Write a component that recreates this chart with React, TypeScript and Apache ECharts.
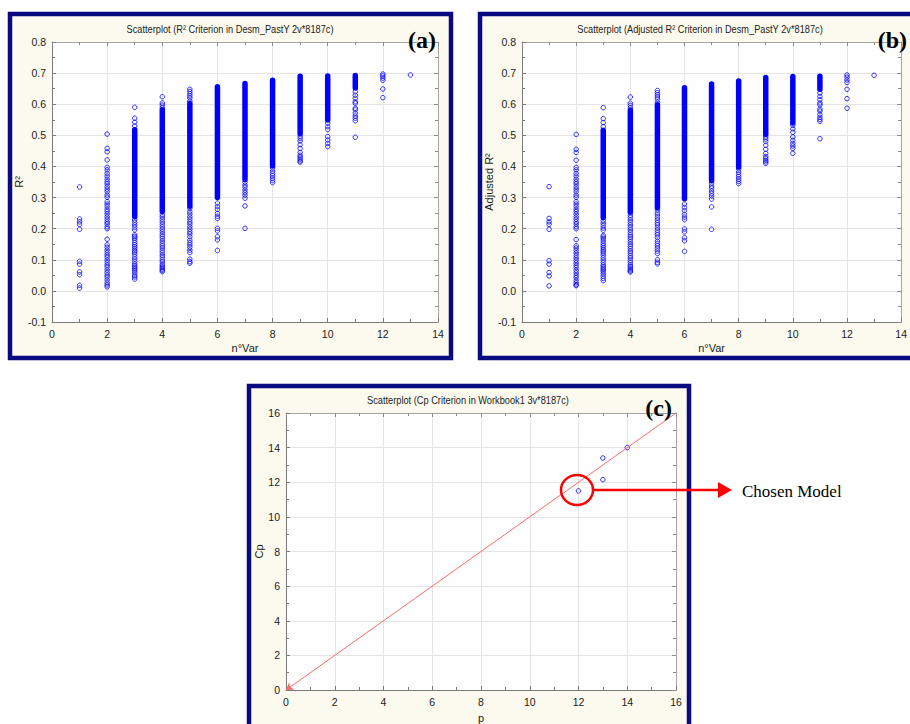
import { useEffect, useRef } from "react";
import * as echarts from "echarts";

// ---------- DATA ----------
// Panel (a): R² criterion – isolated models per number of variables (index 0 => nVar 1)
const rsqSparse: number[][] = [
  [0.334, 0.231, 0.222, 0.214, 0.198, 0.095, 0.086, 0.061, 0.052, 0.018, 0.009],
  [0.504, 0.458, 0.447, 0.421, 0.397, 0.389, 0.378, 0.369, 0.359, 0.351, 0.344, 0.335, 0.327, 0.319, 0.308, 0.301, 0.287, 0.279, 0.271, 0.262, 0.255, 0.247, 0.238, 0.23, 0.222, 0.215, 0.206, 0.2, 0.166, 0.148, 0.14, 0.131, 0.123, 0.115, 0.108, 0.099, 0.091, 0.083, 0.076, 0.067, 0.059, 0.051, 0.044, 0.035, 0.026, 0.019, 0.013],
  [0.59, 0.555, 0.542, 0.53, 0.228, 0.22, 0.212, 0.204, 0.196, 0.18, 0.175, 0.17, 0.163, 0.155, 0.148, 0.142, 0.136, 0.13, 0.125, 0.118, 0.11, 0.102, 0.094, 0.086, 0.08, 0.075, 0.07, 0.065, 0.058, 0.05, 0.045, 0.038],
  [0.624, 0.604, 0.597, 0.589, 0.245, 0.238, 0.23, 0.222, 0.214, 0.206, 0.198, 0.19, 0.182, 0.175, 0.168, 0.16, 0.152, 0.145, 0.138, 0.13, 0.123, 0.115, 0.108, 0.1, 0.093, 0.085, 0.08, 0.075, 0.07, 0.066, 0.062],
  [0.648, 0.641, 0.634, 0.627, 0.62, 0.61, 0.265, 0.255, 0.247, 0.238, 0.23, 0.222, 0.215, 0.206, 0.198, 0.19, 0.183, 0.174, 0.163, 0.155, 0.148, 0.14, 0.131, 0.123, 0.102, 0.094, 0.089],
  [0.282, 0.271, 0.262, 0.249, 0.24, 0.233, 0.201, 0.193, 0.174, 0.164, 0.13],
  [0.349, 0.34, 0.333, 0.324, 0.316, 0.308, 0.298, 0.273, 0.201],
  [0.395, 0.385, 0.377, 0.37, 0.362, 0.355, 0.348],
  [0.497, 0.49, 0.482, 0.47, 0.458, 0.445, 0.436, 0.43, 0.424, 0.418, 0.414],
  [0.539, 0.528, 0.519, 0.496, 0.485, 0.474, 0.464],
  [0.64, 0.629, 0.619, 0.608, 0.603, 0.587, 0.582, 0.571, 0.562, 0.555, 0.547, 0.494],
  [0.697, 0.691, 0.684, 0.677, 0.649, 0.621],
  [0.694],
];
// Panel (a): dense bands of overlapping models [nVar, low, high]
const rsqDense: number[][] = [
  [3, 0.238, 0.518],
  [4, 0.255, 0.582],
  [5, 0.272, 0.602],
  [6, 0.3, 0.656],
  [7, 0.358, 0.667],
  [8, 0.402, 0.677],
  [9, 0.506, 0.69],
  [10, 0.549, 0.691],
  [11, 0.652, 0.692],
];

// Panel (b): Adjusted R² criterion
const adjSparse: number[][] = [
  [0.335, 0.233, 0.222, 0.214, 0.198, 0.097, 0.086, 0.059, 0.048, 0.016],
  [0.503, 0.455, 0.445, 0.42, 0.397, 0.389, 0.378, 0.369, 0.359, 0.351, 0.344, 0.335, 0.327, 0.319, 0.308, 0.301, 0.287, 0.279, 0.271, 0.262, 0.255, 0.247, 0.238, 0.23, 0.222, 0.215, 0.206, 0.2, 0.165, 0.145, 0.138, 0.13, 0.122, 0.114, 0.106, 0.098, 0.09, 0.082, 0.075, 0.066, 0.058, 0.05, 0.043, 0.034, 0.026, 0.02, 0.017],
  [0.589, 0.554, 0.541, 0.528, 0.226, 0.218, 0.21, 0.202, 0.195, 0.178, 0.173, 0.168, 0.161, 0.153, 0.146, 0.14, 0.134, 0.128, 0.122, 0.115, 0.107, 0.099, 0.091, 0.083, 0.077, 0.072, 0.067, 0.062, 0.055, 0.047, 0.04, 0.033],
  [0.623, 0.603, 0.596, 0.588, 0.243, 0.236, 0.228, 0.22, 0.212, 0.204, 0.196, 0.188, 0.18, 0.173, 0.166, 0.158, 0.15, 0.143, 0.136, 0.128, 0.121, 0.113, 0.106, 0.098, 0.091, 0.083, 0.078, 0.073, 0.068, 0.064, 0.061],
  [0.644, 0.637, 0.63, 0.623, 0.616, 0.606, 0.261, 0.252, 0.244, 0.235, 0.227, 0.219, 0.212, 0.203, 0.195, 0.187, 0.18, 0.171, 0.16, 0.152, 0.145, 0.137, 0.128, 0.12, 0.1, 0.092, 0.087],
  [0.279, 0.268, 0.258, 0.246, 0.237, 0.229, 0.199, 0.19, 0.171, 0.161, 0.127],
  [0.346, 0.337, 0.33, 0.321, 0.313, 0.305, 0.295, 0.27, 0.198],
  [0.392, 0.382, 0.374, 0.367, 0.359, 0.352, 0.345],
  [0.495, 0.488, 0.48, 0.468, 0.455, 0.442, 0.432, 0.426, 0.42, 0.415, 0.41],
  [0.532, 0.521, 0.51, 0.495, 0.484, 0.474, 0.466, 0.458, 0.442],
  [0.636, 0.625, 0.615, 0.604, 0.598, 0.584, 0.578, 0.567, 0.558, 0.551, 0.545, 0.489],
  [0.694, 0.687, 0.678, 0.67, 0.648, 0.618, 0.587],
  [0.693],
];
const adjDense: number[][] = [
  [3, 0.236, 0.516],
  [4, 0.253, 0.58],
  [5, 0.268, 0.598],
  [6, 0.296, 0.653],
  [7, 0.355, 0.665],
  [8, 0.398, 0.675],
  [9, 0.503, 0.686],
  [10, 0.54, 0.689],
  [11, 0.648, 0.69],
];

// Panel (c): Mallows' Cp
const cpP = [12, 13, 13, 14];
const cpValues = [11.5, 12.15, 13.4, 14.0];
const cpReference = [[0, 0], [16, 16]];

// Axis ranges [min, max, interval]
const nVarAxis = [0, 14, 2];
const r2Axis = [-0.1, 0.8, 0.1];
const pAxis = [0, 16, 2];
const cpAxis = [0, 16, 2];

const titles = [
  "Scatterplot (R² Criterion in Desm_PastY 2v*8187c)",
  "Scatterplot (Adjusted R² Criterion in Desm_PastY 2v*8187c)",
  "Scatterplot (Cp Criterion in Workbook1 3v*8187c)",
];

// ---------- STYLE ----------
const BLUE = "#0000ff";
const NAVY = "#0a0a80";
const CREAM = "#fcfaef";
const SANS = "'Liberation Sans', Arial, sans-serif";
const SERIF = "'Liberation Serif', 'Times New Roman', serif";
const TXT = "#1a1a1a";

function toPoints(cols: number[][]) {
  const out: number[][] = [];
  cols.forEach((vals, i) => vals.forEach((v) => out.push([i + 1, v])));
  return out;
}

function fmt1(v: number) {
  return Math.abs(v) < 1e-9 ? "0.0" : v.toFixed(1);
}

function mainX(gridIndex: number, ax: number[], name: string, nameGap: number) {
  return {
    type: "value",
    gridIndex,
    min: ax[0],
    max: ax[1],
    interval: ax[2],
    position: "bottom",
    name,
    nameLocation: "middle",
    nameGap,
    nameTextStyle: { fontFamily: SANS, fontSize: 11, color: TXT },
    axisLine: { show: true, onZero: false, lineStyle: { color: "#7a7a7a", width: 1 } },
    axisTick: { show: true, inside: true, length: 4, lineStyle: { color: "#7a7a7a" } },
    minorTick: { show: true, splitNumber: 2, length: 3, lineStyle: { color: "#7a7a7a" } },
    axisLabel: { fontFamily: SANS, fontSize: 10.5, color: TXT, margin: 6 },
    splitLine: { show: true, lineStyle: { color: "#e4e4e4", width: 1 } },
  };
}
function topX(gridIndex: number, ax: number[]) {
  return {
    type: "value",
    gridIndex,
    min: ax[0],
    max: ax[1],
    interval: ax[2],
    position: "top",
    axisLine: { show: true, onZero: false, lineStyle: { color: "#a5a5a5" } },
    axisTick: { show: true, inside: true, length: 4, lineStyle: { color: "#8a8a8a" } },
    minorTick: { show: true, splitNumber: 2, length: 3, lineStyle: { color: "#8a8a8a" } },
    axisLabel: { show: false },
    splitLine: { show: false },
  };
}
function mainY(gridIndex: number, ax: number[], name: string, nameGap: number, formatter?: (v: number) => string) {
  return {
    type: "value",
    gridIndex,
    min: ax[0],
    max: ax[1],
    interval: ax[2],
    position: "left",
    name,
    nameLocation: "middle",
    nameGap,
    nameTextStyle: { fontFamily: SANS, fontSize: 11, color: TXT },
    axisLine: { show: true, onZero: false, lineStyle: { color: "#7a7a7a", width: 1 } },
    axisTick: { show: true, inside: true, length: 4, lineStyle: { color: "#7a7a7a" } },
    minorTick: { show: true, splitNumber: 2, length: 3, lineStyle: { color: "#7a7a7a" } },
    axisLabel: { fontFamily: SANS, fontSize: 10.5, color: TXT, margin: 6, formatter },
    splitLine: { show: true, lineStyle: { color: "#e4e4e4", width: 1 } },
  };
}
function rightY(gridIndex: number, ax: number[]) {
  return {
    type: "value",
    gridIndex,
    min: ax[0],
    max: ax[1],
    interval: ax[2],
    position: "right",
    axisLine: { show: true, onZero: false, lineStyle: { color: "#a5a5a5" } },
    axisTick: { show: true, inside: true, length: 4, lineStyle: { color: "#8a8a8a" } },
    minorTick: { show: true, splitNumber: 2, length: 3, lineStyle: { color: "#8a8a8a" } },
    axisLabel: { show: false },
    splitLine: { show: false },
  };
}

const ringStyle = { color: "rgba(0,0,0,0)", borderColor: BLUE, borderWidth: 1 };

function denseSeries(idx: number, data: number[][]) {
  return {
    type: "custom",
    xAxisIndex: idx,
    yAxisIndex: idx,
    silent: true,
    encode: { x: 0, y: [1, 2] },
    data,
    renderItem: (_p: any, api: any) => {
      const x = api.value(0);
      const lo = api.value(1);
      const hi = api.value(2);
      const top = api.coord([x, hi]);
      const bot = api.coord([x, lo]);
      const r = 2.75;
      return {
        type: "rect",
        shape: { x: top[0] - r, y: top[1] - r, width: 2 * r, height: bot[1] - top[1] + 2 * r, r },
        style: { fill: BLUE },
      };
    },
  };
}

function scatterSeries(idx: number, data: number[][]) {
  return {
    type: "scatter",
    xAxisIndex: idx,
    yAxisIndex: idx,
    symbol: "circle",
    symbolSize: 4.5,
    itemStyle: ringStyle,
    silent: true,
    data,
  };
}

export default function App() {
  const ref = useRef<HTMLDivElement>(null);

  useEffect(() => {
    if (!ref.current) return;
    const chart = echarts.init(ref.current, undefined, { renderer: "svg" });

    const frame = (x: number, y: number, w: number, h: number) => ({
      type: "rect",
      z: -10,
      shape: { x, y, width: w, height: h },
      style: { fill: CREAM, stroke: NAVY, lineWidth: 4.5 },
    });
    const titleText = (text: string, x: number, y: number) => ({
      type: "text",
      z: 50,
      x,
      y,
      scaleX: 0.84,
      style: { text, fill: TXT, font: `11px ${SANS}`, textAlign: "center", textVerticalAlign: "middle" },
    });
    const panelLabel = (text: string, x: number, y: number) => ({
      type: "text",
      z: 60,
      x,
      y,
      style: { text, fill: "#000", font: `bold 24px ${SERIF}`, textAlign: "right", textVerticalAlign: "middle" },
    });

    const cpData = cpP.map((p, i) => [p, cpValues[i]]);

    const option: any = {
      animation: false,
      grid: [
        { left: 52, top: 42, width: 386, height: 280, show: true, backgroundColor: "#fefefe", borderWidth: 0 },
        { left: 522, top: 42, width: 386, height: 280, show: true, backgroundColor: "#fefefe", borderWidth: 0 },
        { left: 286, top: 413, width: 390, height: 279, show: true, backgroundColor: "#fefefe", borderWidth: 0 },
      ],
      xAxis: [
        mainX(0, nVarAxis, "n°Var", 20),
        topX(0, nVarAxis),
        mainX(1, nVarAxis, "n°Var", 20),
        topX(1, nVarAxis),
        mainX(2, pAxis, "p", 22),
        topX(2, pAxis),
      ],
      yAxis: [
        mainY(0, r2Axis, "R²", 26, fmt1),
        rightY(0, r2Axis),
        mainY(1, r2Axis, "Adjusted R²", 23, fmt1),
        rightY(1, r2Axis),
        mainY(2, cpAxis, "Cp", 18),
        rightY(2, cpAxis),
      ],
      series: [
        denseSeries(0, rsqDense),
        scatterSeries(0, toPoints(rsqSparse)),
        denseSeries(2, adjDense),
        scatterSeries(2, toPoints(adjSparse)),
        {
          ...scatterSeries(4, cpData),
          markLine: {
            silent: true,
            symbol: ["arrow", "none"],
            symbolSize: 7,
            label: { show: false },
            lineStyle: { color: "#ff6b6b", width: 1, type: "solid" },
            data: [[{ coord: cpReference[0] }, { coord: cpReference[1] }]],
          },
        },
      ],
      graphic: {
        elements: [
          frame(10, 14, 441, 344),
          frame(480, 14, 440, 344),
          frame(249, 386, 440, 400),
          titleText(titles[0], 230, 29),
          titleText(titles[1], 700, 29),
          titleText(titles[2], 468, 400),
          panelLabel("(a)", 436, 40),
          panelLabel("(b)", 907, 40),
          panelLabel("(c)", 672, 408),
          {
            type: "ellipse",
            z: 100,
            shape: { cx: 577, cy: 490, rx: 16, ry: 15 },
            style: { fill: "none", stroke: "#ff0000", lineWidth: 2.5 },
          },
          {
            type: "line",
            z: 100,
            shape: { x1: 593, y1: 490, x2: 720, y2: 490 },
            style: { stroke: "#ff0000", lineWidth: 2.5 },
          },
          {
            type: "polygon",
            z: 100,
            shape: { points: [[718, 482], [732, 490], [718, 498]] },
            style: { fill: "#ff0000" },
          },
          {
            type: "text",
            z: 100,
            x: 742,
            y: 491,
            style: { text: "Chosen Model", fill: "#000", font: `17px ${SERIF}`, textVerticalAlign: "middle" },
          },
        ],
      },
    };

    chart.setOption(option);
    return () => chart.dispose();
  }, []);

  return <div ref={ref} style={{ position: "absolute", left: 0, top: 0, width: 910, height: 724 }} />;
}
